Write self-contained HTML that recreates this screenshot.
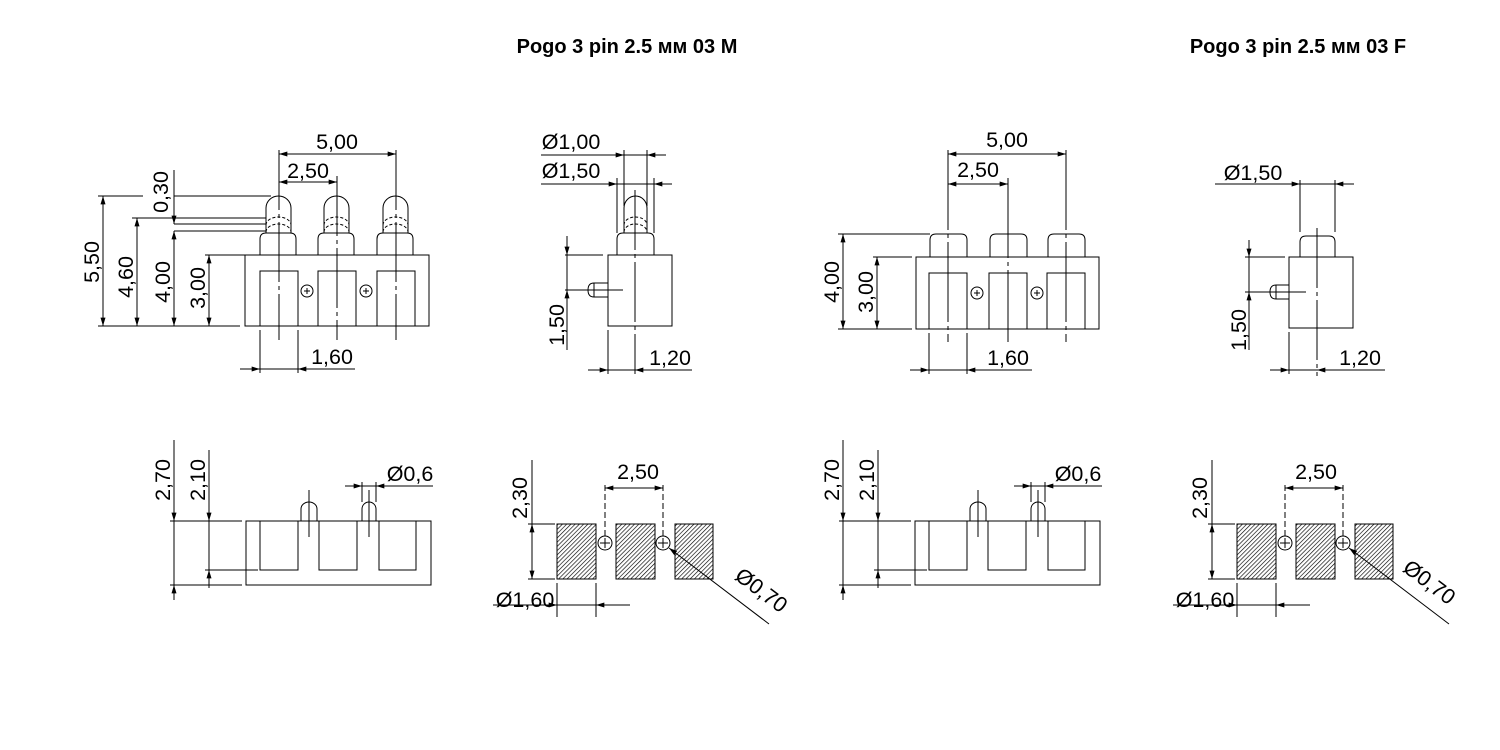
<!DOCTYPE html>
<html><head><meta charset="utf-8"><style>
html,body{margin:0;padding:0;background:#fff;}
svg{display:block;}
text{font-family:"Liberation Sans",sans-serif;font-size:21.5px;fill:#000;}
.t{font-weight:bold;font-size:20px;}
</style></head><body>
<svg width="1500" height="750" viewBox="0 0 1500 750" xmlns="http://www.w3.org/2000/svg">
<defs>
<marker id="a" viewBox="0 0 10 6" refX="10" refY="3" markerWidth="10" markerHeight="5" markerUnits="userSpaceOnUse" orient="auto-start-reverse"><path d="M0,0 L10,3 L0,6 z" fill="#000"/></marker>
<pattern id="h" width="3" height="3" patternUnits="userSpaceOnUse" patternTransform="rotate(45)"><rect width="3" height="3" fill="#fff"/><line x1="0" y1="0" x2="0" y2="3" stroke="#000" stroke-width="1.3"/></pattern>
</defs>
<g fill="none" stroke="#000" stroke-width="1">
<!-- ===== View 1: front M ===== -->
<rect x="245" y="255" width="184" height="71"/>
<rect x="260" y="271" width="38" height="55"/>
<rect x="318" y="271" width="38" height="55"/>
<rect x="377" y="271" width="38" height="55"/>
<circle cx="307" cy="291" r="6"/><circle cx="366" cy="291" r="6"/>
<path d="M304,291h6M307,288v6M363,291h6M366,288v6"/>
<g id="pin">
<path d="M260,255 V239 Q260,233 266,233 H290 Q296,233 296,239 V255"/>
<path d="M266,233 V208 A12.5,12 0 0 1 291,208 V233"/>
<path d="M266,225 A12.5,8 0 0 1 291,225 M266,232 A12.5,8 0 0 1 291,232" stroke-dasharray="3,2"/>
</g>
<use href="#pin" x="58"/><use href="#pin" x="117"/>
<path d="M279,150V340 M337,176V340 M396,150V340" stroke-dasharray="60,4,4,4"/>
<line x1="279" y1="154" x2="396" y2="154" marker-start="url(#a)" marker-end="url(#a)"/>
<line x1="279" y1="182" x2="337" y2="182" marker-start="url(#a)" marker-end="url(#a)"/>
<path d="M98,196H143 M174,196H271 M132,218H266 M174,224H266 M174,231H266 M205,255H245 M98,326H240"/>
<line x1="103" y1="196" x2="103" y2="326" marker-start="url(#a)" marker-end="url(#a)"/>
<line x1="137" y1="218" x2="137" y2="326" marker-start="url(#a)" marker-end="url(#a)"/>
<line x1="174" y1="170" x2="174" y2="224"/>
<line x1="174" y1="205" x2="174" y2="224" marker-end="url(#a)"/>
<line x1="174" y1="231" x2="174" y2="326" marker-start="url(#a)" marker-end="url(#a)"/>
<line x1="209" y1="255" x2="209" y2="326" marker-start="url(#a)" marker-end="url(#a)"/>
<path d="M260,330V373 M298,330V373 M240,369H355"/>
<line x1="242" y1="369" x2="260" y2="369" marker-end="url(#a)"/>
<line x1="318" y1="369" x2="298" y2="369" marker-end="url(#a)"/>

<!-- ===== View 2: side M ===== -->
<rect x="608" y="255" width="64" height="71"/>
<path d="M617,255 V239 Q617,233 623,233 H648 Q654,233 654,239 V255"/>
<path d="M624,233 V208 A11.5,12 0 0 1 647,208 V233"/>
<path d="M624,225 A11.5,8 0 0 1 647,225 M624,232 A11.5,8 0 0 1 647,232" stroke-dasharray="3,2"/>
<path d="M608,283 H594 Q588,283 588,290 Q588,297 594,297 H608 M594,283V297"/>
<line x1="635" y1="190" x2="635" y2="374" stroke-dasharray="60,4,4,4"/>
<path d="M578,290H623"/>
<path d="M541,155H666 M541,184H672 M624,150V206 M647,150V206 M617,178V233 M654,178V233"/>
<line x1="606" y1="155" x2="624" y2="155" marker-end="url(#a)"/><line x1="666" y1="155" x2="647" y2="155" marker-end="url(#a)"/>
<line x1="599" y1="184" x2="617" y2="184" marker-end="url(#a)"/><line x1="672" y1="184" x2="654" y2="184" marker-end="url(#a)"/>
<path d="M565,255H603 M565,290H580 M567,236V350"/>
<line x1="567" y1="236" x2="567" y2="255" marker-end="url(#a)"/>
<line x1="567" y1="310" x2="567" y2="290" marker-end="url(#a)"/>
<path d="M608,330V374 M588,370H692"/>
<line x1="590" y1="370" x2="608" y2="370" marker-end="url(#a)"/>
<line x1="655" y1="370" x2="635" y2="370" marker-end="url(#a)"/>

<!-- ===== View 3: front F ===== -->
<rect x="916" y="257" width="183" height="72"/>
<rect x="929" y="273" width="38" height="56"/>
<rect x="989" y="273" width="38" height="56"/>
<rect x="1047" y="273" width="38" height="56"/>
<circle cx="977" cy="293" r="6"/><circle cx="1037" cy="293" r="6"/>
<path d="M974,293h6M977,290v6M1034,293h6M1037,290v6"/>
<path d="M930,257 V240 Q930,234 936,234 H961 Q967,234 967,240 V257"/>
<path d="M990,257 V240 Q990,234 996,234 H1021 Q1027,234 1027,240 V257"/>
<path d="M1048,257 V240 Q1048,234 1054,234 H1079 Q1085,234 1085,240 V257"/>
<path d="M948,150V342 M1008,178V342 M1066,150V342" stroke-dasharray="80,4,4,4"/>
<line x1="948" y1="154" x2="1066" y2="154" marker-start="url(#a)" marker-end="url(#a)"/>
<line x1="948" y1="184" x2="1008" y2="184" marker-start="url(#a)" marker-end="url(#a)"/>
<path d="M838,234H930 M873,257H912 M838,329H912"/>
<line x1="843" y1="234" x2="843" y2="329" marker-start="url(#a)" marker-end="url(#a)"/>
<line x1="877" y1="257" x2="877" y2="329" marker-start="url(#a)" marker-end="url(#a)"/>
<path d="M929,333V374 M967,333V374 M910,370H1032"/>
<line x1="911" y1="370" x2="929" y2="370" marker-end="url(#a)"/>
<line x1="987" y1="370" x2="967" y2="370" marker-end="url(#a)"/>

<!-- ===== View 4: side F ===== -->
<rect x="1289" y="257" width="64" height="71"/>
<path d="M1300,257 V242 Q1300,236 1306,236 H1329 Q1335,236 1335,242 V257"/>
<path d="M1289,285 H1276 Q1270,285 1270,292 Q1270,299 1276,299 H1289 M1276,285V299"/>
<line x1="1317" y1="228" x2="1317" y2="376" stroke-dasharray="60,4,4,4"/>
<path d="M1262,292H1306"/>
<path d="M1215,184H1354 M1300,180V232 M1335,180V232"/>
<line x1="1282" y1="184" x2="1300" y2="184" marker-end="url(#a)"/><line x1="1354" y1="184" x2="1335" y2="184" marker-end="url(#a)"/>
<path d="M1245,257H1285 M1245,292H1262 M1249,240V350"/>
<line x1="1249" y1="240" x2="1249" y2="257" marker-end="url(#a)"/>
<line x1="1249" y1="310" x2="1249" y2="292" marker-end="url(#a)"/>
<path d="M1289,332V374 M1270,370H1385"/>
<line x1="1271" y1="370" x2="1289" y2="370" marker-end="url(#a)"/>
<line x1="1337" y1="370" x2="1317" y2="370" marker-end="url(#a)"/>

<!-- ===== Bottom view 1 (and 3) ===== -->
<g id="bv">
<path d="M246,521H431V585H246Z"/>
<path d="M260,521V570H298V521 M319,521V570H357V521 M379,521V570H416V521"/>
<path d="M301,521V509 A8,7 0 0 1 317,509 V521 M362,521V509 A7,7 0 0 1 376,509 V521"/>
<path d="M309,490V537 M369,490V537"/>
<path d="M170,521H242 M170,585H242 M205,570H258 M174,440V600 M209,450V588"/>
<line x1="174" y1="505" x2="174" y2="521" marker-end="url(#a)"/>
<line x1="174" y1="600" x2="174" y2="585" marker-end="url(#a)"/>
<line x1="209" y1="505" x2="209" y2="521" marker-end="url(#a)"/>
<line x1="209" y1="586" x2="209" y2="570" marker-end="url(#a)"/>
<path d="M345,486H433 M362,482V502 M376,482V502"/>
<line x1="346" y1="486" x2="362" y2="486" marker-end="url(#a)"/>
<line x1="392" y1="486" x2="376" y2="486" marker-end="url(#a)"/>
</g>
<use href="#bv" x="669"/>

<!-- ===== Bottom view 2 (and 4) ===== -->
<g id="pv">
<rect x="557" y="524" width="39" height="55" fill="url(#h)"/>
<rect x="616" y="524" width="39" height="55" fill="url(#h)"/>
<rect x="675" y="524" width="38" height="55" fill="url(#h)"/>
<circle cx="605" cy="543" r="7" fill="#fff"/><circle cx="663" cy="543" r="7" fill="#fff"/>
<path d="M600,543h10M605,538v10M658,543h10M663,538v10"/>
<path d="M605,485V536 M663,485V536" stroke-dasharray="6,3"/>
<line x1="605" y1="488" x2="663" y2="488" marker-start="url(#a)" marker-end="url(#a)"/>
<path d="M528,524H555 M528,579H555"/>
<line x1="532" y1="524" x2="532" y2="579" marker-start="url(#a)" marker-end="url(#a)"/>
<line x1="532" y1="460" x2="532" y2="524"/>
<path d="M557,583V617 M596,583V617 M493,605H630"/>
<line x1="539" y1="605" x2="557" y2="605" marker-end="url(#a)"/>
<line x1="614" y1="605" x2="596" y2="605" marker-end="url(#a)"/>
<line x1="769" y1="624" x2="669" y2="548" marker-end="url(#a)"/>
</g>
<use href="#pv" x="680"/>
</g>

<!-- Titles -->
<text class="t" x="627" y="53" text-anchor="middle">Pogo 3 pin 2.5 мм 03 M</text>
<text class="t" x="1298" y="53" text-anchor="middle">Pogo 3 pin 2.5 мм 03 F</text>

<!-- View 1 texts -->
<text x="337" y="149" text-anchor="middle">5,00</text>
<text x="308" y="178" text-anchor="middle">2,50</text>
<text x="332" y="364" text-anchor="middle">1,60</text>
<text transform="translate(99,262) rotate(-90)" text-anchor="middle">5,50</text>
<text transform="translate(133,277) rotate(-90)" text-anchor="middle">4,60</text>
<text transform="translate(170,282) rotate(-90)" text-anchor="middle">4,00</text>
<text transform="translate(205,288) rotate(-90)" text-anchor="middle">3,00</text>
<text transform="translate(168,192) rotate(-90)" text-anchor="middle">0,30</text>
<!-- View 2 -->
<text x="571" y="149" text-anchor="middle">Ø1,00</text>
<text x="571" y="178" text-anchor="middle">Ø1,50</text>
<text transform="translate(564,325) rotate(-90)" text-anchor="middle">1,50</text>
<text x="670" y="365" text-anchor="middle">1,20</text>
<!-- View 3 -->
<text x="1007" y="147" text-anchor="middle">5,00</text>
<text x="978" y="177" text-anchor="middle">2,50</text>
<text x="1008" y="365" text-anchor="middle">1,60</text>
<text transform="translate(839,282) rotate(-90)" text-anchor="middle">4,00</text>
<text transform="translate(873,292) rotate(-90)" text-anchor="middle">3,00</text>
<!-- View 4 -->
<text x="1253" y="180" text-anchor="middle">Ø1,50</text>
<text transform="translate(1246,330) rotate(-90)" text-anchor="middle">1,50</text>
<text x="1360" y="365" text-anchor="middle">1,20</text>
<!-- Bottom 1 -->
<text transform="translate(170,480) rotate(-90)" text-anchor="middle">2,70</text>
<text transform="translate(205,480) rotate(-90)" text-anchor="middle">2,10</text>
<text x="410" y="481" text-anchor="middle">Ø0,6</text>
<!-- Bottom 3 -->
<text transform="translate(839,480) rotate(-90)" text-anchor="middle">2,70</text>
<text transform="translate(874,480) rotate(-90)" text-anchor="middle">2,10</text>
<text x="1078" y="481" text-anchor="middle">Ø0,6</text>
<!-- Bottom 2 -->
<text x="638" y="479" text-anchor="middle">2,50</text>
<text transform="translate(527,498) rotate(-90)" text-anchor="middle">2,30</text>
<text x="525" y="607" text-anchor="middle">Ø1,60</text>
<text transform="translate(757,596) rotate(37)" text-anchor="middle">Ø0,70</text>
<!-- Bottom 4 -->
<text x="1316" y="479" text-anchor="middle">2,50</text>
<text transform="translate(1207,498) rotate(-90)" text-anchor="middle">2,30</text>
<text x="1205" y="607" text-anchor="middle">Ø1,60</text>
<text transform="translate(1425,588) rotate(37)" text-anchor="middle">Ø0,70</text>
</svg>
</body></html>
